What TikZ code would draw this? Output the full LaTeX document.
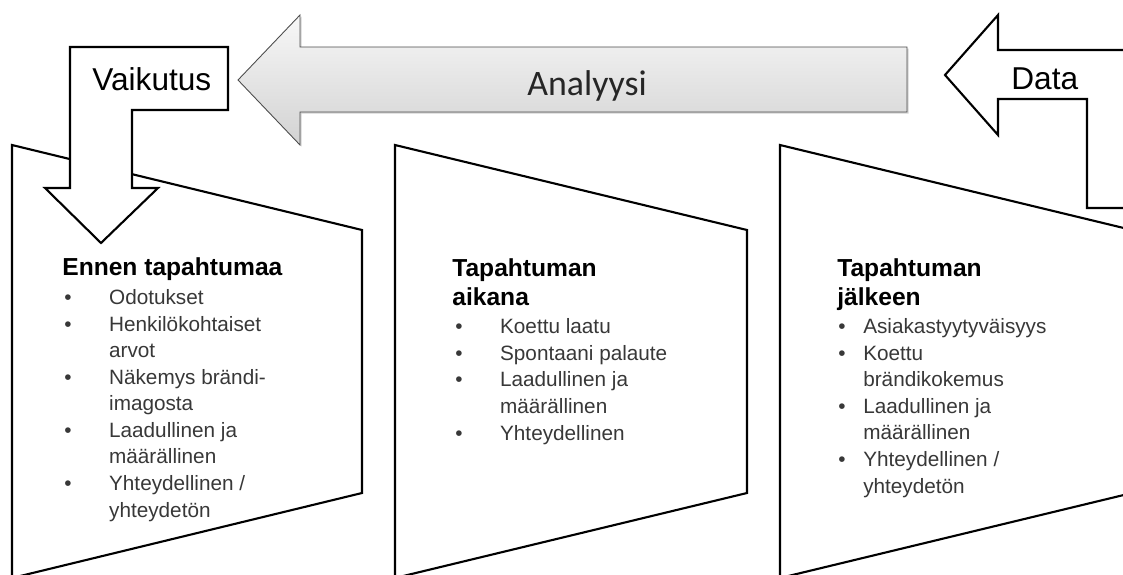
\documentclass[tikz,border=0pt]{standalone}
\usepackage{fontspec}
\setmainfont{Liberation Sans}
\newfontfamily\analyysifont{Carlito}
\usetikzlibrary{shadows}
\newlength\bulw
\newcommand\bul{\makebox[\bulw][l]{\textbullet}}
\newcommand\ind{\hspace*{\bulw}}
\tikzset{
  panel/.style={draw, line width=1.2pt, fill=white, line join=miter},
  bentarrow/.style={draw, line width=1.2pt, fill=white, line join=miter},
  bigarrow/.style={draw=gray!60!black, line width=0.5pt, top color=gray!6, bottom color=gray!35,
    drop shadow={shadow xshift=0.9pt, shadow yshift=-0.9pt, opacity=0.35}},
  arrowlabel/.style={anchor=base west, inner sep=0pt, font=\fontsize{18}{21}\selectfont},
  head/.style={anchor=base west, align=left, inner sep=0pt, font=\bfseries\fontsize{14}{16.4}\selectfont},
  items/.style={anchor=base west, align=left, inner sep=0pt, text=black!78,
    font=\fontsize{11.8}{15.1}\selectfont, execute at begin node={\setlength{\bulw}{#1}}}
}
\begin{document}
\begin{tikzpicture}[x=0.02cm, y=-0.02cm]
            \clip (0,0) rectangle (1123,575);
            \fill[white] (0,0) rectangle (1123,575);
            \draw[panel] (12,145) -- (362,230) -- (362,493) -- (12,578) -- cycle;
            \draw[panel] (395,145) -- (747,230) -- (747,493) -- (395,578) -- cycle;
            \draw[panel] (780,145) -- (1132,230) -- (1132,493) -- (780,578) -- cycle;
            \draw[bigarrow] (907,47) -- (300,47) -- (300,15) -- (238,80) -- (300,145) -- (300,112) -- (907,112) -- cycle;
            \draw[bentarrow] (70,47) -- (228,47) -- (228,110) -- (132,110) -- (132,188) -- (158,188)
                -- (101,243) -- (45,188) -- (70,188) -- cycle;
            \draw[bentarrow] (1140,50) -- (998,50) -- (998,15) -- (945,75) -- (998,135) -- (998,99)
                -- (1087,99) -- (1087,208) -- (1140,208);
            \node[arrowlabel] (vaikutus) at (92,90) {Vaikutus};
            \node[anchor=base west, inner sep=0pt, text=black!85,
                font=\analyysifont\fontsize{20.4}{24}\selectfont] (analyysi) at (527,95) {Analyysi};
            \node[arrowlabel] (data) at (1011,89) {Data};
            \node[head] (ennen) at (62,275) {Ennen tapahtumaa};
            \node[items=25.5pt] (ennen-list) at (64,517) {\bul Odotukset\\ \bul Henkilökohtaiset\\ \ind arvot\\
                \bul Näkemys brändi-\\ \ind imagosta\\ \bul Laadullinen ja\\ \ind määrällinen\\
                \bul Yhteydellinen /\\ \ind yhteydetön};
            \node[head] (aikana) at (452,305) {Tapahtuman\\ aikana};
            \node[items=25.5pt] (aikana-list) at (455,440) {\bul Koettu laatu\\ \bul Spontaani palaute\\
                \bul Laadullinen ja\\ \ind määrällinen\\ \bul Yhteydellinen};
            \node[head] (jalkeen) at (837,305) {Tapahtuman\\ jälkeen};
            \node[items=14.2pt] (jalkeen-list) at (838,493) {\bul Asiakastyytyväisyys\\ \bul Koettu\\
                \ind brändikokemus\\ \bul Laadullinen ja\\ \ind määrällinen\\ \bul Yhteydellinen /\\ \ind yhteydetön};
        \end{tikzpicture}
\end{document}
